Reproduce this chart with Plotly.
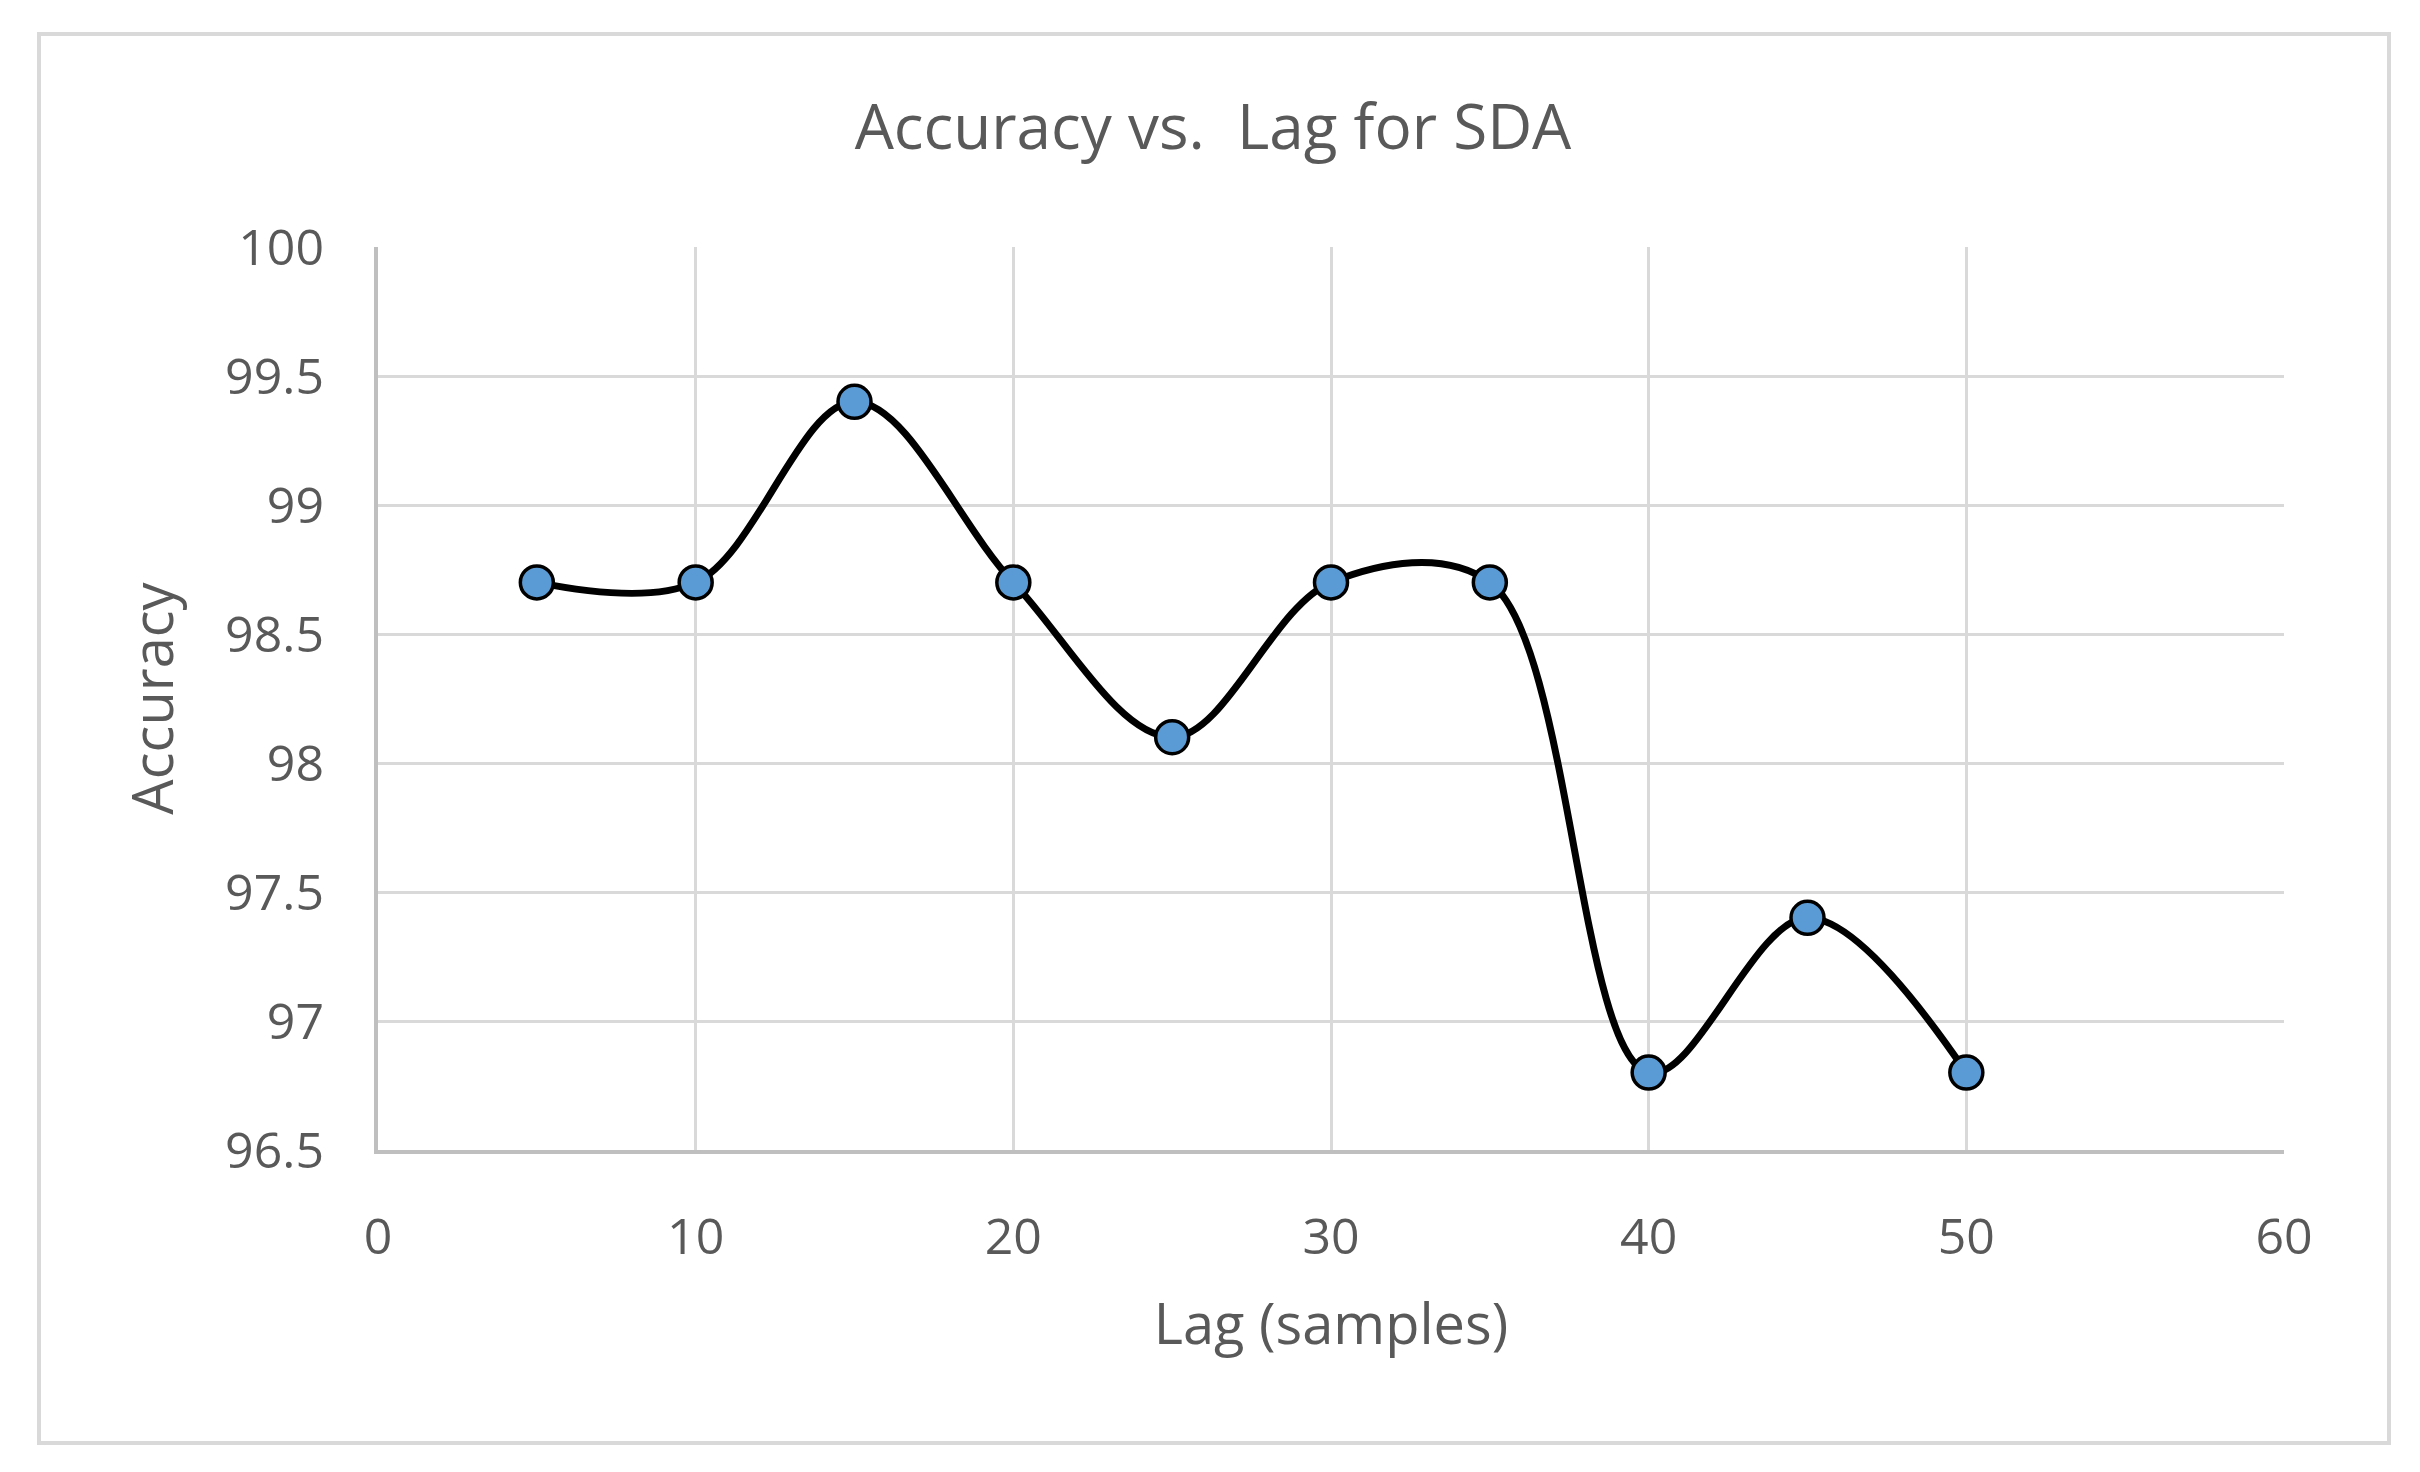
import plotly.graph_objects as go

lag = [5, 10, 15, 20, 25, 30, 35, 40, 45, 50]
accuracy = [98.7, 98.7, 99.4, 98.7, 98.1, 98.7, 98.7, 96.8, 97.4, 96.8]

title_text = "Accuracy vs.  Lag for SDA"
x_title = "Lag (samples)"
y_title = "Accuracy"

FONT = "Open Sans"
TXT = "#595959"
GRID = "#d9d9d9"

OFF = 8  # page body margin
L, R, T, B = 378 - OFF, 2284 - OFF, 247 - OFF, 1150 - OFF
PW, PH = R - L, B - T

fig = go.Figure()
fig.add_trace(go.Scatter(
    x=lag, y=accuracy, mode="lines+markers",
    line=dict(color="black", width=7, shape="spline", smoothing=1.0),
    marker=dict(size=33, color="#5b9bd5", line=dict(color="black", width=3.5)),
    showlegend=False,
))

fig.update_layout(
    width=2420, height=1472,
    paper_bgcolor="white", plot_bgcolor="white",
    margin=dict(l=L, r=2420 - R, t=T, b=1472 - B),
    font=dict(family=FONT, color=TXT),
    title=dict(text=title_text, x=(1213 - OFF) / 2420, xref="container",
               y=1 - (127 - OFF) / 1472,
               yref="container", xanchor="center", yanchor="middle",
               font=dict(size=62, color=TXT, family=FONT)),
)

fig.update_xaxes(
    range=[0, 60], dtick=10, tick0=0,
    showgrid=True, gridcolor=GRID, gridwidth=3,
    zeroline=False, showline=True, linecolor="#bfbfbf", linewidth=4,
    ticks="outside", ticklen=40, tickcolor="rgba(0,0,0,0)",
    tickfont=dict(size=50, color=TXT, family=FONT),
    title=dict(text=x_title, font=dict(size=56, color=TXT, family=FONT), standoff=38),
)
fig.update_yaxes(
    range=[96.5, 100], dtick=0.5, tick0=96.5,
    showgrid=True, gridcolor=GRID, gridwidth=3,
    zeroline=False, showline=True, linecolor="#bfbfbf", linewidth=4,
    ticks="outside", ticklen=40, tickcolor="rgba(0,0,0,0)",
    tickfont=dict(size=50, color=TXT, family=FONT),
    title=dict(text=y_title, font=dict(size=56, color=TXT, family=FONT), standoff=34),
)

# outer chart border
fig.add_shape(type="rect", xref="paper", yref="paper",
              x0=(39 - OFF - L) / PW, x1=(2389 - OFF - L) / PW,
              y0=(B - (1443 - OFF)) / PH, y1=(B - (34 - OFF)) / PH,
              line=dict(color=GRID, width=4), fillcolor="rgba(0,0,0,0)", layer="below")

fig.write_html("out.html")
